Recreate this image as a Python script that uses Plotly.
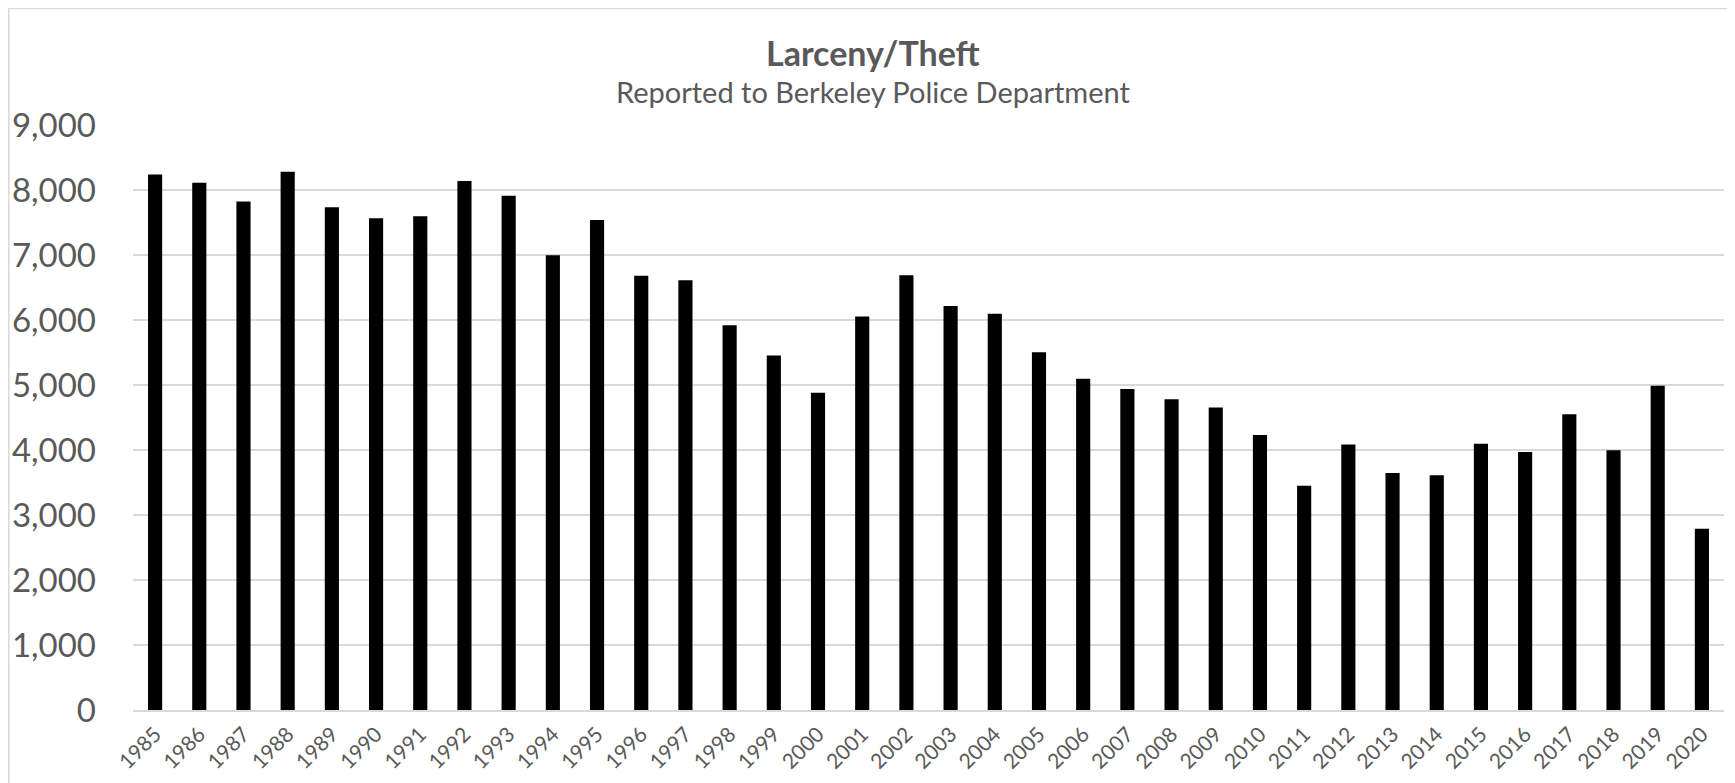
import plotly.graph_objects as go

years = [str(y) for y in range(1985, 2021)]
thefts = [8240, 8110, 7825, 8280, 7735, 7565, 7595, 8140, 7910, 6995,
          7540, 6680, 6610, 5920, 5455, 4880, 6055, 6690, 6215, 6095,
          5505, 5095, 4940, 4780, 4655, 4230, 3450, 4085, 3645, 3610,
          4095, 3970, 4550, 3995, 4990, 2790]
y_ticks = [0, 1000, 2000, 3000, 4000, 5000, 6000, 7000, 8000, 9000]
y_tick_text = ["0", "1,000", "2,000", "3,000", "4,000", "5,000", "6,000", "7,000", "8,000", "9,000"]

title_text = "Larceny/Theft"
subtitle_text = "Reported to Berkeley Police Department"

W, H = 1735, 783
OFF = 8  # page body margin: figure is drawn 8px right/down in the window

# target screen positions of the plot area
scr_left, scr_right, scr_top, scr_bottom = 133, 1724, 125.3, 710
L = scr_left - OFF
R = W - (scr_right - OFF)
T = scr_top - OFF
B = H - (scr_bottom - OFF)
plot_w = W - L - R
plot_h = H - T - B

def px_x(px):
    return (px - OFF - L) / plot_w

def px_y(py):
    return (H - B - (py - OFF)) / plot_h

TEXT = "#595959"
GRID = "#d9d9d9"
FONT = "Lato"

fig = go.Figure(go.Bar(
    x=years, y=thefts,
    marker=dict(color="#000000", line=dict(width=0)),
    hoverinfo="x+y",
))

fig.update_layout(
    width=W, height=H,
    margin=dict(l=L, r=R, t=T, b=B),
    paper_bgcolor="white", plot_bgcolor="white",
    bargap=0.68,
    showlegend=False,
    font=dict(family=FONT, color=TEXT),
    xaxis=dict(
        type="category",
        tickangle=-45,
        tickfont=dict(family=FONT, size=21, color=TEXT),
        showgrid=False, zeroline=False,
        showline=True, linecolor=GRID, linewidth=1.5,
        ticks="", ticklabelstandoff=2,
        automargin=False,
    ),
    yaxis=dict(
        range=[0, 9000],
        tickvals=y_ticks, ticktext=y_tick_text,
        tickfont=dict(family=FONT, size=33, color=TEXT),
        showgrid=True, gridcolor=GRID, gridwidth=1.5,
        zeroline=False, showline=False,
        ticks="", ticklabelstandoff=36,
        automargin=False,
    ),
    shapes=[dict(
        type="rect", xref="paper", yref="paper",
        x0=px_x(8.8), x1=px_x(1760), y0=px_y(8.8), y1=px_y(810),
        line=dict(color=GRID, width=1.5), fillcolor="rgba(0,0,0,0)", layer="below",
    )],
    annotations=[
        dict(text="<b>" + title_text + "</b>", xref="paper", yref="paper",
             x=px_x(873), y=px_y(52.5), xanchor="center", yanchor="middle",
             showarrow=False, font=dict(family=FONT, size=34, color=TEXT)),
        dict(text=subtitle_text, xref="paper", yref="paper",
             x=px_x(873), y=px_y(92), xanchor="center", yanchor="middle",
             showarrow=False, font=dict(family=FONT, size=29, color=TEXT)),
    ],
)

fig.write_html("out.html")
